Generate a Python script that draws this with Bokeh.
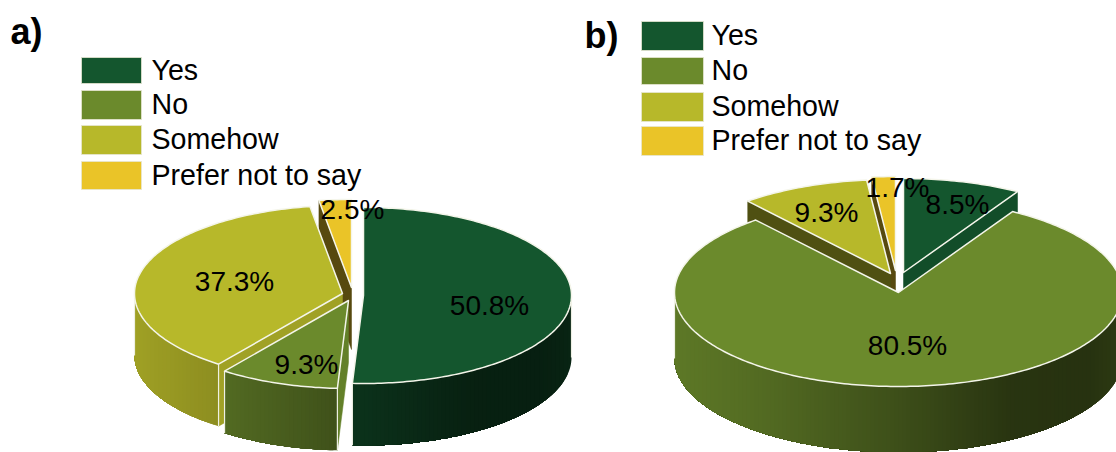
import math

from bokeh.core.properties import value
from bokeh.embed import file_html
from bokeh.models import Range1d
from bokeh.plotting import figure
from bokeh.resources import INLINE

# Survey shares
categories = ["Yes", "No", "Somehow", "Prefer not to say"]
values_a = [50.8, 9.3, 37.3, 2.5]
values_b = [8.5, 80.5, 9.3, 1.7]
value_labels_a = ["50.8%", "9.3%", "37.3%", "2.5%"]
value_labels_b = ["8.5%", "80.5%", "9.3%", "1.7%"]
panel_names = ["a)", "b)"]

# Styling
colors = ["#14562e", "#6b8a2c", "#b7b82a", "#eac428"]
FONT = value("Liberation Sans")

# Pie layout: centre, radii, extrusion and how far each slice is pulled out
PIE_A = dict(cx=350, cy=293, rx=208, ry=88, depth=62,
             explode=[(13, 2), (-2, 7), (-8, 0), (1, -6)],
             label_offset=[(126, 10), (-42, 64), (-108, -12), (1, -78)])
PIE_B = dict(cx=898, cy=292, rx=224, ry=94, depth=66,
             explode=[(5, -20), (0, 0), (-8, -19), (-3, -22)],
             label_offset=[(54, -68), (9, 53), (-64, -61), (2, -83)])

LEGEND_A = dict(x=81, text_x=151, rows=[(57, 83), (90, 119), (125, 154), (161, 189)], w=60)
LEGEND_B = dict(x=641, text_x=711, rows=[(21, 50), (57, 84), (92, 121), (126, 155)], w=62)

# Brightness of the extruded rim as a function of horizontal position on the pie
RIM_SHADE = [(-1.0, 0.87), (-0.6, 0.77), (0.0, 0.57), (0.5, 0.38), (0.85, 0.36), (1.0, 0.42)]
RIM_STRIP_PX = 4.0


def shade(hex_color, k):
    r, g, b = (int(hex_color[i:i + 2], 16) for i in (1, 3, 5))
    return "#%02x%02x%02x" % (round(r * k), round(g * k), round(b * k))


def rim_factor(u):
    for (u0, k0), (u1, k1) in zip(RIM_SHADE, RIM_SHADE[1:]):
        if u <= u1:
            return k0 + (k1 - k0) * (u - u0) / (u1 - u0)
    return RIM_SHADE[-1][1]


def rim_point(ax, ay, pie, deg):
    t = math.radians(deg)
    return ax + pie["rx"] * math.sin(t), ay - pie["ry"] * math.cos(t)


def arc_points(ax, ay, pie, lo, hi):
    n = max(2, int(hi - lo))
    return [rim_point(ax, ay, pie, lo + (hi - lo) * i / n) for i in range(n + 1)]


def draw_rim(p, pie, color, lo, hi, ax, ay):
    """Rim as overlapping bands of equal on-screen width, each clipped to the curved edge."""
    depth = pie["depth"]
    pts = arc_points(ax, ay, pie, lo, hi)
    right, left = pts[0][0], pts[-1][0]
    n = max(1, int((right - left) / RIM_STRIP_PX))

    def y_at(x):
        for (x0, y0), (x1, y1) in zip(pts, pts[1:]):
            if x1 <= x <= x0:
                return y0 if x0 == x1 else y0 + (y1 - y0) * (x - x0) / (x1 - x0)
        return pts[-1][1] if x < left else pts[0][1]

    for i in range(n):
        x_hi = right - (right - left) * i / n
        x_lo = left
        c = shade(color, rim_factor((x_hi - (right - left) / (2 * n) - ax) / pie["rx"]))
        band = [q for q in pts if q[0] <= x_hi]
        xs = [x_hi] + [q[0] for q in band]
        ys = [y_at(x_hi)] + [q[1] for q in band]
        xs += xs[::-1]
        ys += [y + depth for y in ys[::-1]]
        p.patch(xs, ys, fill_color=c, line_color=None)

    for x0, y0 in (pts[0], pts[-1]):
        p.line([x0, x0], [y0, y0 + depth], line_color="#eef0e4", line_width=1.2)


def draw_slice(p, pie, color, start, end, ax, ay):
    depth = pie["depth"]

    # Flat cut faces, only those turned towards the viewer
    for edge, sign in ((start, -1), (end, 1)):
        t = math.radians(edge)
        nx, ny = sign * math.cos(t), sign * math.sin(t)
        if ny > 0.001:
            ex, ey = rim_point(ax, ay, pie, edge)
            c = shade(color, 0.65 + 0.28 * nx)
            p.patch([ax, ex, ex, ax], [ay, ey, ey + depth, ay + depth],
                    fill_color=c, line_color=c, line_width=0.5)

    lo, hi = max(start, 90.0), min(end, 270.0)
    if lo < hi:
        draw_rim(p, pie, color, lo, hi, ax, ay)

    # Top face
    arc = arc_points(ax, ay, pie, start, end)
    xs = [ax] + [a[0] for a in arc]
    ys = [ay] + [a[1] for a in arc]
    p.patch(xs, ys, fill_color=color, line_color="#f4f5ea", line_width=1.5, line_join="round")


def draw_pie(p, pie, vals, labels):
    total = sum(vals)
    spans, acc = [], 0.0
    for v in vals:
        spans.append((acc / total * 360, (acc + v) / total * 360))
        acc += v

    # Paint from the back of the pie to the front
    def front_depth(i):
        mid = math.radians(sum(spans[i]) / 2)
        return pie["cy"] + pie["explode"][i][1] - pie["ry"] * math.cos(mid)

    for i in sorted(range(len(vals)), key=front_depth):
        dx, dy = pie["explode"][i]
        draw_slice(p, pie, colors[i], spans[i][0], spans[i][1], pie["cx"] + dx, pie["cy"] + dy)

    tx = [pie["cx"] + e[0] + o[0] for e, o in zip(pie["explode"], pie["label_offset"])]
    ty = [pie["cy"] + e[1] + o[1] for e, o in zip(pie["explode"], pie["label_offset"])]
    p.text(tx, ty, text=labels, text_font=FONT, text_font_size="28px", text_color="#000000",
           text_align="center", text_baseline="middle")


def draw_legend(p, leg):
    top = [r[0] for r in leg["rows"]]
    bottom = [r[1] for r in leg["rows"]]
    p.quad(left=leg["x"], right=leg["x"] + leg["w"], top=top, bottom=bottom,
           fill_color=colors, line_color="#e6e6d2", line_width=0.8)
    p.text([leg["text_x"]] * 4, [(a + b) / 2 - 1 for a, b in leg["rows"]], text=categories,
           text_font=FONT, text_font_size="28.6px", text_color="#000000",
           text_align="left", text_baseline="middle")


p = figure(width=1116, height=452, output_backend="svg", toolbar_location=None,
           x_range=Range1d(0, 1116), y_range=Range1d(452, 0),
           min_border=0, outline_line_color=None, background_fill_color="white",
           border_fill_color="white")
p.axis.visible = False
p.grid.visible = False

draw_pie(p, PIE_A, values_a, value_labels_a)
draw_pie(p, PIE_B, values_b, value_labels_b)
draw_legend(p, LEGEND_A)
draw_legend(p, LEGEND_B)

p.text([10, 584], [31, 35], text=panel_names, text_font=FONT, text_font_style="bold",
       text_font_size="36px", text_color="#000000", text_align="left", text_baseline="middle")

open("out.html", "w").write(file_html(p, INLINE))
